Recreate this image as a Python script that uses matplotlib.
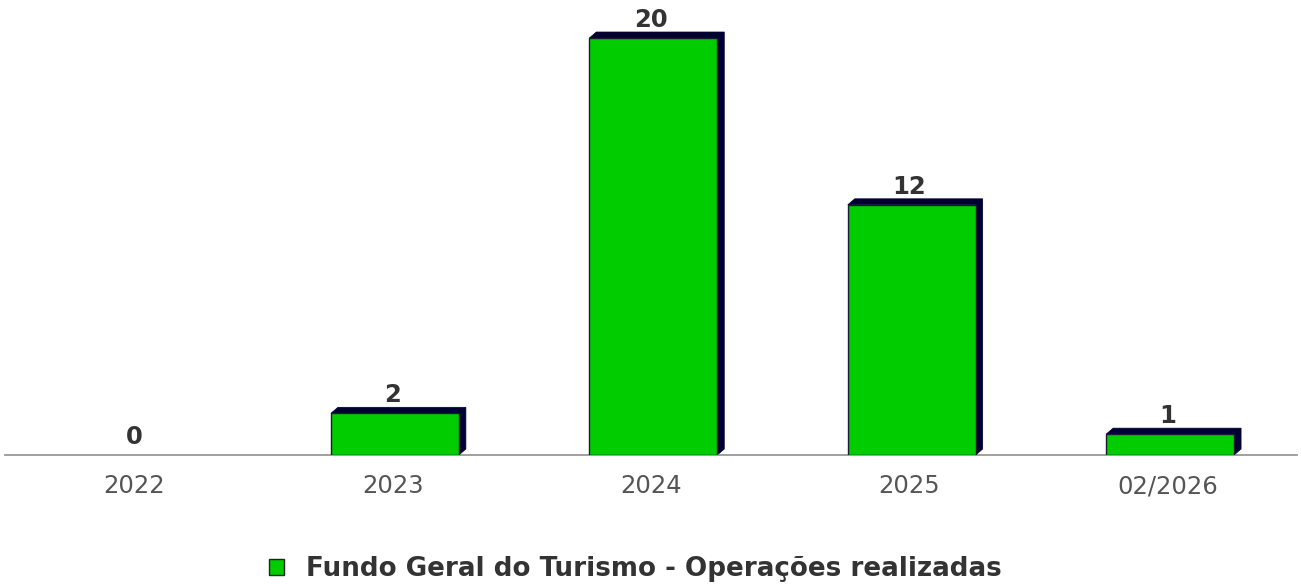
import matplotlib
matplotlib.use("Agg")
import matplotlib.pyplot as plt
import numpy as np
from matplotlib.patches import Polygon, Patch

plt.rcParams["font.family"] = ["DejaVu Sans"]

categories = ["2022", "2023", "2024", "2025", "02/2026"]
values = [0, 2, 20, 12, 1]
series_name = "Fundo Geral do Turismo - Operações realizadas"

FACE = "#00cc00"
SHADOW = "#000033"

W, H = 1301, 585
fig = plt.figure(figsize=(W / 100, H / 100), dpi=100)
ax = fig.add_axes([5 / W, 130 / H, 1292 / W, 455 / H])
ax.set_xlim(-0.5, len(categories) - 0.5)
ax.set_ylim(0, 455 / 20.85)

px_x = (len(categories)) / 1292.0
px_y = (455 / 20.85) / 455.0
dx, dy = 7 * px_x, 6 * px_y

x = np.arange(len(categories))
bw = 0.495
off = 0.009
for xi, v in zip(x, values):
    if v <= 0:
        continue
    x0, x1 = xi + off - bw / 2, xi + off + bw / 2
    shadow = Polygon([(x0, v), (x0 + dx, v + dy), (x1 + dx, v + dy),
                      (x1 + dx, dy), (x1, 0), (x1, v)], closed=True,
                     facecolor=SHADOW, edgecolor=SHADOW, lw=0.5, zorder=2)
    ax.add_patch(shadow)
bars = ax.bar(x + off, values, width=bw, color=FACE, edgecolor="#1a1a33", linewidth=1.0, zorder=3)
for b, v in zip(bars, values):
    if v <= 0:
        b.set_visible(False)

for xi, v in zip(x, values):
    ax.annotate(str(v), (xi, v), xytext=(0, 11), textcoords="offset pixels",
                ha="center", va="baseline", fontsize=17.5, fontweight="bold",
                color="#333333", annotation_clip=False, zorder=5)

for s in ["top", "left", "right"]:
    ax.spines[s].set_visible(False)
ax.spines["bottom"].set_color("#999999")
ax.spines["bottom"].set_linewidth(1.3)
ax.set_yticks([])
ax.set_xticks(x)
ax.set_xticklabels(categories, fontsize=17.5, color="#555555")
ax.tick_params(axis="x", length=0, pad=14)

handle = Patch(facecolor=FACE, edgecolor="#222222", linewidth=1.0, label=series_name)
fig.legend(handles=[handle], loc="center", bbox_to_anchor=(635.5 / W, 1 - 569 / H),
           frameon=False, prop={"size": 18.8, "weight": "bold"},
           handlelength=0.58, handleheight=0.58, handletextpad=0.85,
           labelcolor="#333333", borderaxespad=0, borderpad=0)

fig.savefig("out.png", dpi=100)
